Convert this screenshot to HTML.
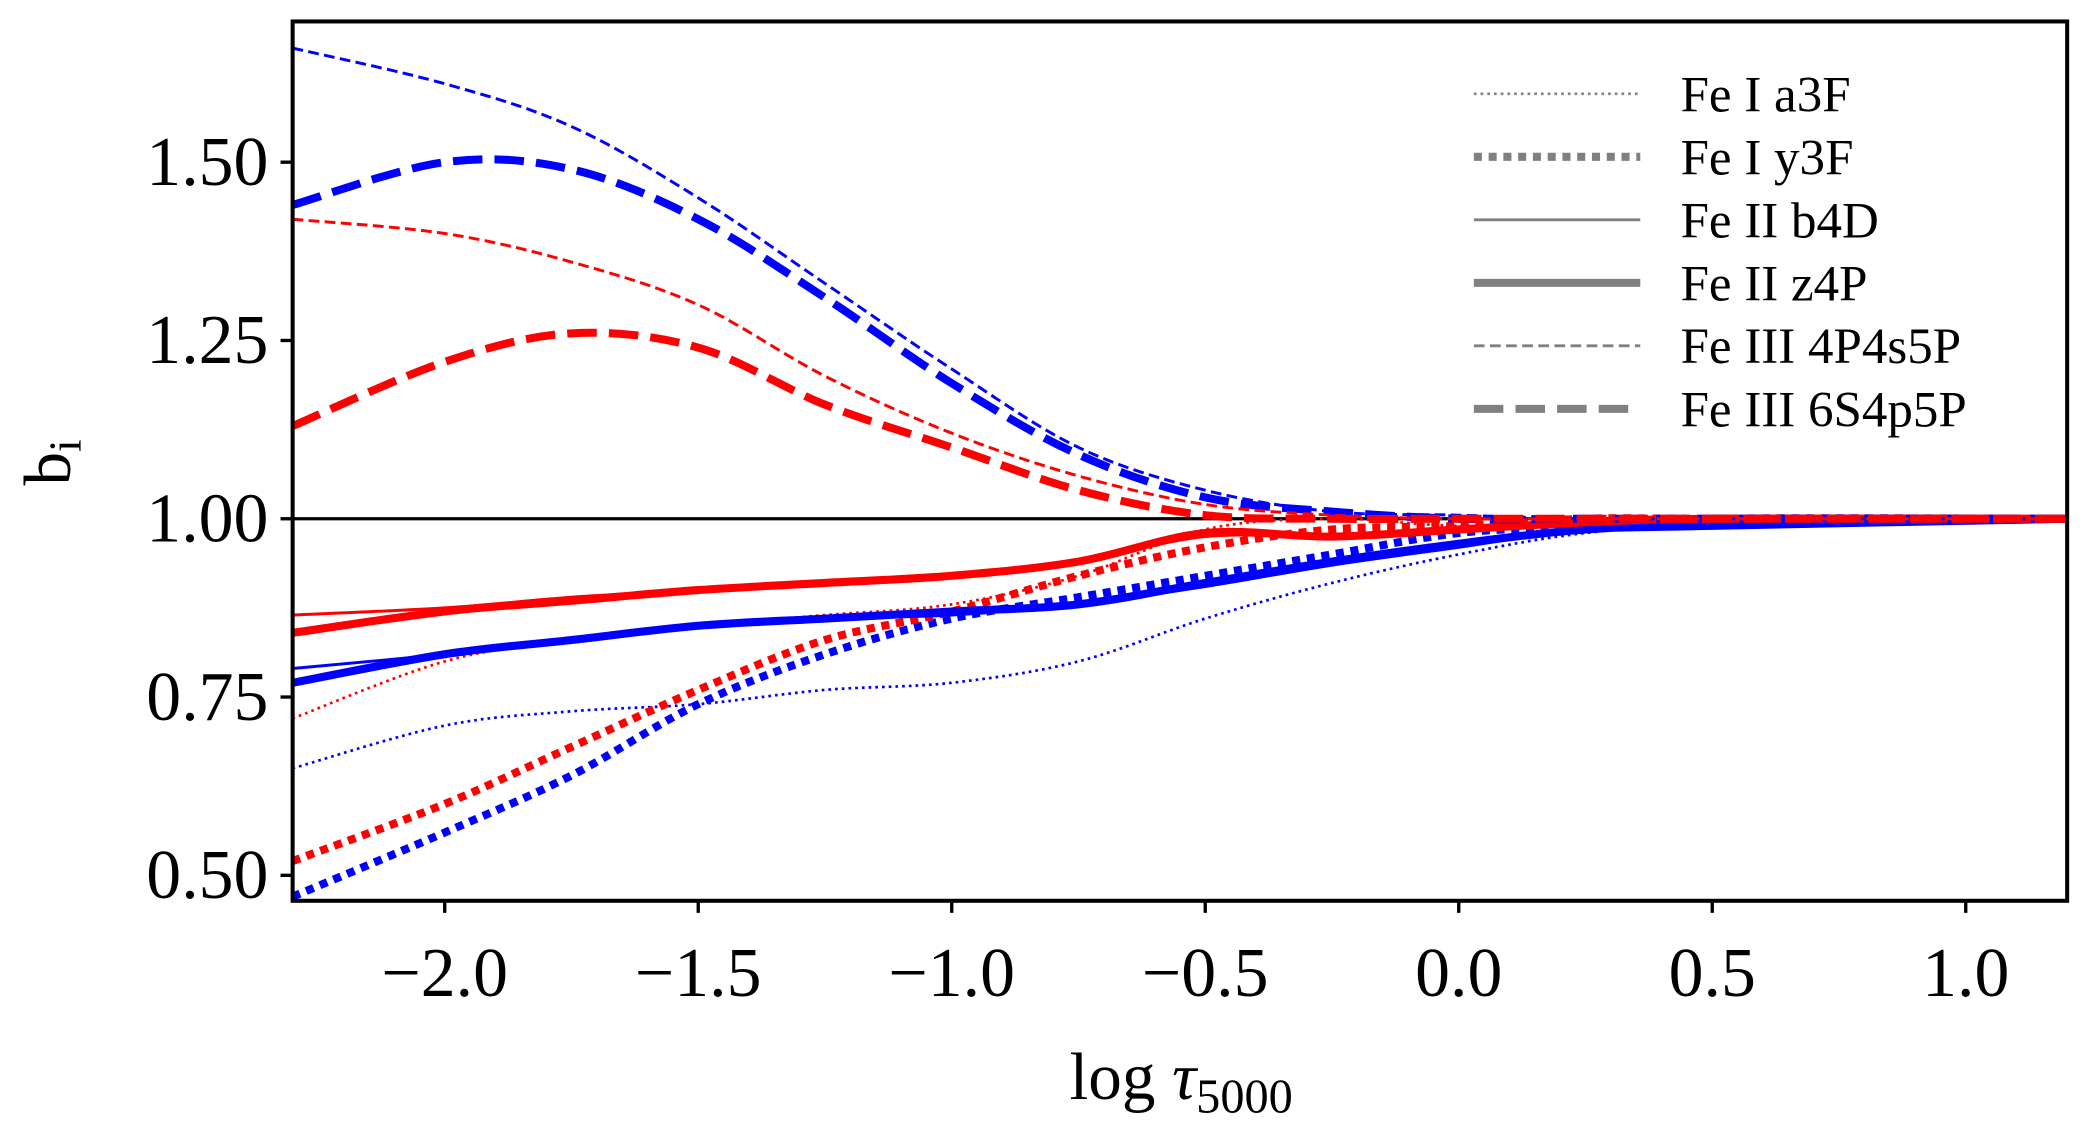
<!DOCTYPE html>
<html><head><meta charset="utf-8"><style>
html,body{margin:0;padding:0;background:#fff;}
svg{display:block;font-family:"Liberation Serif",serif;}
</style></head><body>
<svg id="chart" width="2094" height="1130" viewBox="0 0 1560 843" preserveAspectRatio="none" xmlns="http://www.w3.org/2000/svg">
<defs><clipPath id="clip"><rect x="218" y="16" width="1322" height="656"/></clipPath></defs>
<g id="marks" clip-path="url(#clip)"></g>
<rect x="218" y="16" width="1322" height="656" fill="none" stroke="#000" stroke-width="3"/>
<g id="axes"></g>
<text x="880" y="820" font-size="50" text-anchor="middle">log <tspan font-style="italic">τ</tspan><tspan font-size="36" dy="10">5000</tspan></text>
<text transform="translate(52,345) rotate(-90)" font-size="50" text-anchor="middle">b<tspan font-size="34" dy="8">i</tspan></text>
<g id="legend"></g>
</svg>
<script>
const xs = [-2.3,-2.0,-1.75,-1.5,-1.25,-1.0,-0.75,-0.5,-0.25,0,0.25,0.5,1.2];
const blueIII4P = [1.66,1.61,1.55,1.45,1.33,1.21,1.10,1.04,1.01,1.005,1.0,1.0,1.0];
const blueIII6S = [1.44,1.50,1.49,1.42,1.31,1.19,1.09,1.03,1.01,1.0,1.0,1.0,1.0];
const redIII4P = [1.42,1.40,1.36,1.30,1.20,1.12,1.06,1.02,1.005,1.0,1.0,1.0,1.0];
const redIII6S = [1.13,1.22,1.26,1.24,1.16,1.10,1.04,1.005,1.0,1.0,1.0,1.0,1.0];
const redIIz4P = [0.84,0.87,0.885,0.90,0.91,0.92,0.94,0.98,0.975,0.985,0.995,1.0,1.0];
const redIIb4D = [0.865,0.875,0.89,0.90,0.91,0.92,0.94,0.975,0.975,0.985,0.995,1.0,1.0];
const blueIIz4P = [0.77,0.81,0.83,0.85,0.86,0.87,0.88,0.91,0.94,0.965,0.985,0.99,1.0];
const blueIIb4D = [0.79,0.81,0.83,0.85,0.86,0.865,0.88,0.905,0.935,0.96,0.985,0.99,1.0];
const redIa3F = [0.72,0.80,0.83,0.85,0.865,0.88,0.92,0.985,1.0,0.99,0.995,1.0,1.0];
const blueIa3F = [0.65,0.71,0.73,0.74,0.76,0.77,0.80,0.86,0.91,0.95,0.98,0.99,1.0];
const redIy3F = [0.52,0.60,0.68,0.76,0.83,0.87,0.92,0.96,0.985,0.99,1.0,1.0,1.0];
const blueIy3F = [0.47,0.56,0.64,0.74,0.81,0.86,0.89,0.92,0.95,0.98,0.99,1.0,1.0];
const xTicks = [-2.0,-1.5,-1.0,-0.5,0.0,0.5,1.0];
const xTickLabels = ["−2.0","−1.5","−1.0","−0.5","0.0","0.5","1.0"];
const yTicks = [0.5,0.75,1.0,1.25,1.5];
const yTickLabels = ["0.50","0.75","1.00","1.25","1.50"];
const legendLabels = ["Fe I a3F","Fe I y3F","Fe II b4D","Fe II z4P","Fe III 4P4s5P","Fe III 6S4p5P"];

const X = v => 218 + (v + 2.3) / 3.5 * 1322;
const Y = v => 387 - (v - 1.0) / 0.25 * 133;
const NS = "http://www.w3.org/2000/svg";
function mk(tag, attrs, parent){const e=document.createElementNS(NS,tag);for(const k in attrs)e.setAttribute(k,attrs[k]);parent.appendChild(e);return e;}
const marks=document.getElementById('marks'), axes=document.getElementById('axes'), legend=document.getElementById('legend');
const styles = {
  a3F:{w:2,d:"2,3"}, y3F:{w:6,d:"6,5"}, b4D:{w:2.2,d:""}, z4P:{w:6,d:""},
  III4P:{w:2.2,d:"8,4"}, III6S:{w:6,d:"22,9"}
};
const series = [
  [blueIa3F,'#0000ff','a3F','blue-fe1-a3f'],[redIa3F,'#ff0000','a3F','red-fe1-a3f'],
  [blueIy3F,'#0000ff','y3F','blue-fe1-y3f'],[redIy3F,'#ff0000','y3F','red-fe1-y3f'],
  [blueIIb4D,'#0000ff','b4D','blue-fe2-b4d'],[blueIIz4P,'#0000ff','z4P','blue-fe2-z4p'],
  [redIIb4D,'#ff0000','b4D','red-fe2-b4d'],[redIIz4P,'#ff0000','z4P','red-fe2-z4p'],
  [blueIII4P,'#0000ff','III4P','blue-fe3-4p4s5p'],[blueIII6S,'#0000ff','III6S','blue-fe3-6s4p5p'],
  [redIII4P,'#ff0000','III4P','red-fe3-4p4s5p'],[redIII6S,'#ff0000','III6S','red-fe3-6s4p5p']
];
const ref = mk('line',{x1:218,x2:1540,y1:Y(1),y2:Y(1),stroke:'#000','stroke-width':2.5},marks);


function smoothPath(pts){let d=`M${pts[0][0]},${pts[0][1]}`;for(let i=0;i<pts.length-1;i++){const p0=pts[Math.max(i-1,0)],p1=pts[i],p2=pts[i+1],p3=pts[Math.min(i+2,pts.length-1)];d+=` C${p1[0]+(p2[0]-p0[0])/6},${p1[1]+(p2[1]-p0[1])/6} ${p2[0]-(p3[0]-p1[0])/6},${p2[1]-(p3[1]-p1[1])/6} ${p2[0]},${p2[1]}`;}return d;}
series.forEach(s=>{
  const st=styles[s[2]];
  const pts=xs.map((x,i)=>[X(x),Y(s[0][i])]);
  const p=mk('path',{d:smoothPath(pts),fill:'none',stroke:s[1],'stroke-width':st.w,'stroke-dasharray':st.d},marks);
  
  
});
xTicks.forEach((t,i)=>{
  const l=mk('line',{x1:X(t),x2:X(t),y1:672,y2:681,stroke:'#000','stroke-width':2.5},axes);
  
  
  const tx=mk('text',{x:X(t),y:743,'font-size':52,'text-anchor':'middle'},axes);
  tx.textContent=xTickLabels[i];
  
  
});
yTicks.forEach((t,i)=>{
  const l=mk('line',{x1:209,x2:218,y1:Y(t),y2:Y(t),stroke:'#000','stroke-width':2.5},axes);
  
  
  const tx=mk('text',{x:200,y:Y(t)+17,'font-size':52,'text-anchor':'end'},axes);
  tx.textContent=yTickLabels[i];
  
  
});
['a3F','y3F','b4D','z4P','III4P','III6S'].forEach((k,i)=>{
  const y=70+i*47, st=styles[k];
  const l=mk('line',{x1:1098,x2:1222,y1:y,y2:y,stroke:'#808080','stroke-width':st.w,'stroke-dasharray':st.d},legend);
  
  
  const tx=mk('text',{x:1252,y:y+13,'font-size':38},legend);
  tx.textContent=legendLabels[i];
  
  
});
</script>
</body></html>
